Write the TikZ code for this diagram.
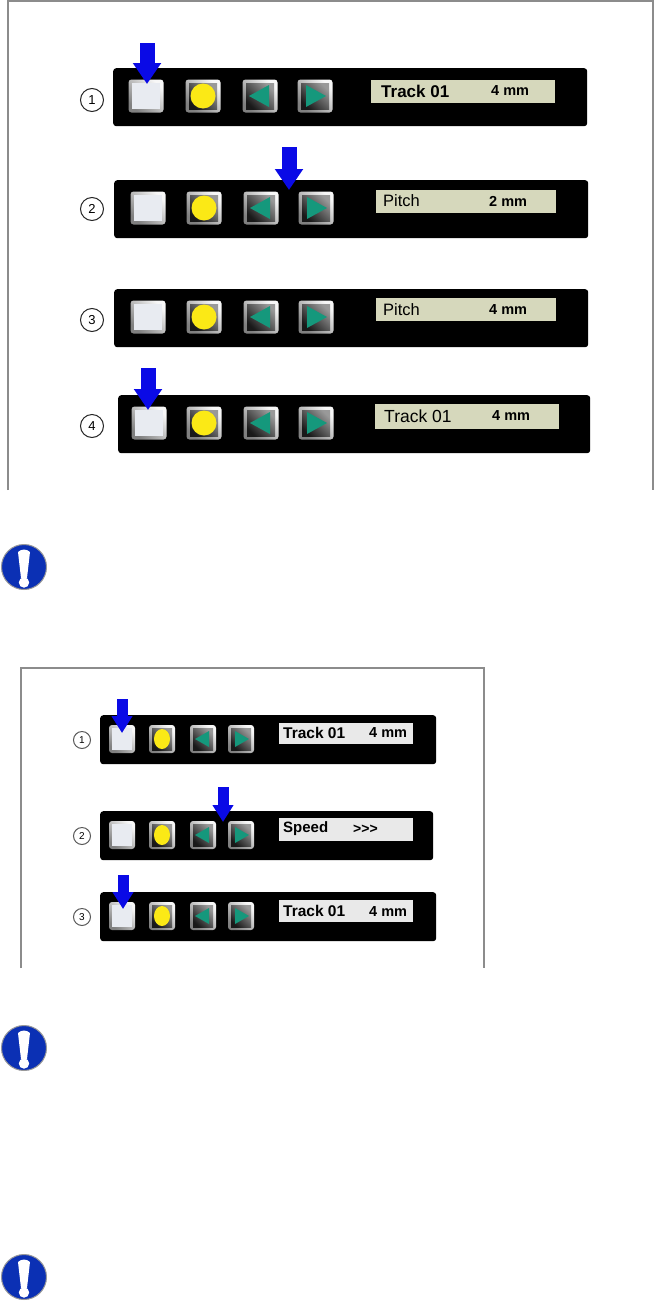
\documentclass[tikz,border=0pt]{standalone}
\usepackage{fontspec}
\setmainfont{Liberation Sans}
\setsansfont{Liberation Sans}
\usetikzlibrary{positioning,arrows.meta}
\definecolor{lcdgreen}{HTML}{D6D8BC}
\definecolor{lcdgrey}{HTML}{E9E9E9}
\definecolor{keyteal}{HTML}{15987C}
\definecolor{keyyellow}{HTML}{FBE916}
\definecolor{keypale}{HTML}{E8EBF1}
\definecolor{pressblue}{HTML}{0A0AE6}
\definecolor{warnblue}{HTML}{0B30B4}
\tikzset{
  panel/.style={fill=black,rounded corners=3pt,inner sep=0pt,anchor=north west},
  keyrim/.style={rounded corners=3pt,inner sep=0pt,left color=black!50,middle color=black!90,right color=black!3,shading angle=135},
  keyface/.style={inner sep=0pt,left color=black!90,right color=black!40,shading angle=135},
  keywhite/.style={inner sep=0pt,fill=keypale},
  lcd/.style={inner sep=0pt,anchor=north west},
  lcdtext/.style={inner sep=0pt,anchor=west},
  stepmark/.style={circle,draw=black!85,line width=1pt,fill=white,inner sep=0pt},
  pressbig/.style={-{Triangle[length=21pt,width=27pt]},line width=15pt,pressblue},
  presssmall/.style={-{Triangle[length=17pt,width=20pt]},line width=11pt,pressblue},
  frameline/.style={draw=black!45,line width=1.4pt},
  warnring/.style={circle,fill=warnblue,draw=black!40,line width=1pt,inner sep=0pt,minimum size=45pt},
}
\begin{document}
\begin{tikzpicture}[x=1pt,y=-1pt]
\useasboundingbox (0,0) rectangle (659,1301);
% frames, open at the bottom
\draw[frameline] (8,490) |- (653,1) -- (653,490);
\draw[frameline] (21,968) |- (484,668) -- (484,968);
% upper figure
\foreach \rowid/\px/\py/\pw/\xa/\xb/\xc/\xd/\dx/\dy/\dw/\dh in {
  a/113/68/474/146/203/260/315/371/80/184/23,
  b/114/180/474/148/204/261/316/376/190/180/23,
  c/114/289/474/148/204/261/316/376/298/180/23,
  d/118/395/472/149/204/261/316/375/404/184/25}{
  \node[panel,minimum width=\pw pt,minimum height=58pt] (panel\rowid) at (\px,\py) {};
  \foreach \k/\x in {1/\xa,2/\xb,3/\xc,4/\xd}{
    \node[keyrim,minimum width=35pt,minimum height=33pt] (key\rowid\k) at (\x,\py+28) {};
  }
  \node[keywhite,minimum width=28pt,minimum height=26pt] (face\rowid1) at (key\rowid1) {};
  \node[keyface,minimum width=28pt,minimum height=26pt] (face\rowid2) at (key\rowid2) {};
  \node[keyface,minimum width=28pt,minimum height=26pt] (face\rowid3) at (key\rowid3) {};
  \node[keyface,minimum width=28pt,minimum height=26pt] (face\rowid4) at (key\rowid4) {};
  \fill[keyyellow] (key\rowid2) circle (12.5pt);
  \fill[keyteal] ([xshift=-11pt]key\rowid3.center) -- ([xshift=9pt,yshift=-11pt]key\rowid3.center) -- ([xshift=9pt,yshift=11pt]key\rowid3.center) -- cycle;
  \fill[keyteal] ([xshift=11pt]key\rowid4.center) -- ([xshift=-9pt,yshift=-11pt]key\rowid4.center) -- ([xshift=-9pt,yshift=11pt]key\rowid4.center) -- cycle;
  \node[lcd,fill=lcdgreen,minimum width=\dw pt,minimum height=\dh pt] (lcd\rowid) at (\dx,\dy) {};
}
\node[stepmark,minimum size=23pt,font=\fontsize{13}{13}\selectfont] (marka) at (92,100) {1};
\node[stepmark,minimum size=23pt,font=\fontsize{13}{13}\selectfont] (markb) at (92,209) {2};
\node[stepmark,minimum size=23pt,font=\fontsize{13}{13}\selectfont] (markc) at (92,320) {3};
\node[stepmark,minimum size=23pt,font=\fontsize{13}{13}\selectfont] (markd) at (92,426) {4};
\node[lcdtext,font=\bfseries\fontsize{17}{17}\selectfont] (texta) at (381,91) {Track 01};
\node[lcdtext,font=\bfseries\fontsize{14.5}{15}\selectfont] (vala) at (491,91) {4 mm};
\node[lcdtext,font=\fontsize{16.5}{17}\selectfont] (textb) at (383,201) {Pitch};
\node[lcdtext,font=\bfseries\fontsize{14.5}{15}\selectfont] (valb) at (489,201) {2 mm};
\node[lcdtext,font=\fontsize{16.5}{17}\selectfont] (textc) at (383,310) {Pitch};
\node[lcdtext,font=\bfseries\fontsize{14.5}{15}\selectfont] (valc) at (489,310) {4 mm};
\node[lcdtext,font=\fontsize{17.5}{18}\selectfont] (textd) at (384,416) {Track 01};
\node[lcdtext,font=\bfseries\fontsize{14.5}{15}\selectfont] (vald) at (492,416) {4 mm};
\coordinate (pressa) at (147,43);
\coordinate (pressb) at (289,147);
\coordinate (pressd) at (148,368);
\draw[pressbig] (pressa) -- (147,84);
\draw[pressbig] (pressb) -- (289,190);
\draw[pressbig] (pressd) -- (148,410);
% lower figure
\foreach \rowid/\py/\pw/\dy/\dh in {e/715/336/723/21,f/811/333/818/23,g/892/336/900/22}{
  \node[panel,minimum width=\pw pt,minimum height=49pt] (panel\rowid) at (100,\py) {};
  \foreach \k/\x in {1/122,2/162,3/203,4/241}{
    \node[keyrim,minimum width=26pt,minimum height=28pt] (key\rowid\k) at (\x,\py+24) {};
  }
  \node[keywhite,minimum width=20pt,minimum height=22pt] (face\rowid1) at (key\rowid1) {};
  \node[keyface,minimum width=20pt,minimum height=22pt] (face\rowid2) at (key\rowid2) {};
  \node[keyface,minimum width=20pt,minimum height=22pt] (face\rowid3) at (key\rowid3) {};
  \node[keyface,minimum width=20pt,minimum height=22pt] (face\rowid4) at (key\rowid4) {};
  \fill[keyyellow] (key\rowid2) ellipse (8pt and 10pt);
  \fill[keyteal] ([xshift=-8pt]key\rowid3.center) -- ([xshift=6pt,yshift=-8pt]key\rowid3.center) -- ([xshift=6pt,yshift=8pt]key\rowid3.center) -- cycle;
  \fill[keyteal] ([xshift=8pt]key\rowid4.center) -- ([xshift=-6pt,yshift=-8pt]key\rowid4.center) -- ([xshift=-6pt,yshift=8pt]key\rowid4.center) -- cycle;
  \node[lcd,fill=lcdgrey,minimum width=134pt,minimum height=\dh pt] (lcd\rowid) at (279,\dy) {};
}
\node[stepmark,minimum size=17pt,draw=black!65,font=\fontsize{10}{10}\selectfont] (marke) at (82,740) {1};
\node[stepmark,minimum size=17pt,draw=black!65,font=\fontsize{10}{10}\selectfont] (markf) at (82,836) {2};
\node[stepmark,minimum size=17pt,draw=black!65,font=\fontsize{10}{10}\selectfont] (markg) at (82,917) {3};
\node[lcdtext,font=\bfseries\fontsize{15.5}{16}\selectfont] (texte) at (283,733) {Track 01};
\node[lcdtext,font=\bfseries\fontsize{14.5}{15}\selectfont] (vale) at (369,733) {4 mm};
\node[lcdtext,font=\bfseries\fontsize{15}{15}\selectfont] (textf) at (283,829) {Speed};
\node[lcdtext,font=\bfseries\fontsize{14}{14}\selectfont] (valf) at (353,829) {{>}{>}{>}};
\node[lcdtext,font=\bfseries\fontsize{15.5}{16}\selectfont] (textg) at (283,911) {Track 01};
\node[lcdtext,font=\bfseries\fontsize{14.5}{15}\selectfont] (valg) at (369,911) {4 mm};
\coordinate (presse) at (122,699);
\coordinate (pressf) at (223,787);
\coordinate (pressg) at (123,875);
\draw[presssmall] (presse) -- (122,733);
\draw[presssmall] (pressf) -- (223,822);
\draw[presssmall] (pressg) -- (123,909);
% warning signs
\foreach \signid/\y in {a/567,b/1048,c/1277}{
  \node[warnring] (sign\signid) at (24,\y) {};
  \fill[white] ([xshift=-6pt,yshift=15pt]sign\signid.center) to[bend left=45] ([xshift=6pt,yshift=15pt]sign\signid.center) -- ([xshift=3pt,yshift=-11pt]sign\signid.center) -- ([xshift=-3pt,yshift=-11pt]sign\signid.center) -- cycle;
  \fill[white] ([yshift=-15.5pt]sign\signid.center) circle (5.2pt);
}
\end{tikzpicture}
\end{document}
